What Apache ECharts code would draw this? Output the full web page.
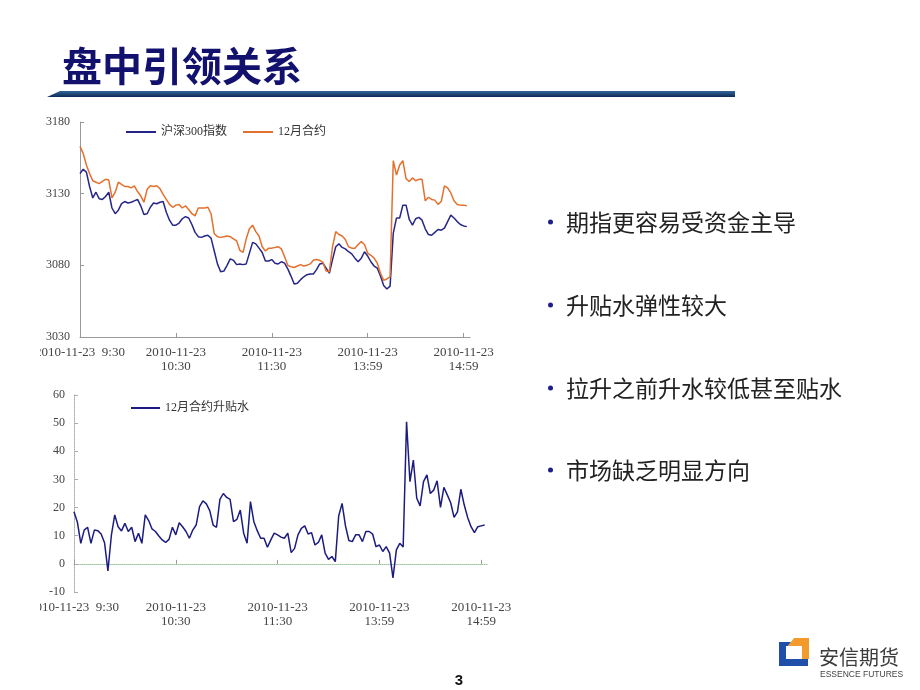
<!DOCTYPE html>
<html><head><meta charset="utf-8">
<script src="https://cdn.jsdelivr.net/npm/echarts/dist/echarts.min.js"></script>
<style>html,body{margin:0;padding:0;background:#fff;width:920px;height:690px;overflow:hidden}
.c{position:absolute}</style></head>
<body>
<div id="bg" class="c" style="left:0;top:0;width:920px;height:690px"></div>
<div id="chartTop" class="c" style="left:40px;top:110px;width:460px;height:268px"></div>
<div id="chartBot" class="c" style="left:40px;top:385px;width:474px;height:248px"></div>
<script>
// ---- data ----
const titleText = '盘中引领关系';
const bulletTexts = ['期指更容易受资金主导', '升贴水弹性较大', '拉升之前升水较低甚至贴水', '市场缺乏明显方向'];
const seriesNames = ['沪深300指数', '12月合约'];
const basisName = '12月合约升贴水';
const tickIndex = [0, 30, 60, 90, 120];
const tickLabels = ['2010-11-23  9:30', '2010-11-23\n10:30', '2010-11-23\n11:30', '2010-11-23\n13:59', '2010-11-23\n14:59'];
const topYTicks = [3030, 3180, 50];
const botYTicks = [-10, 60, 10];

const hs300 = [3144,3147,3145,3135,3127,3131,3126.5,3126,3128,3131,
3120,3116,3118.5,3123,3124.5,3123.5,3124,3125,3126,3121.5,
3115.5,3116,3120.5,3123.5,3123,3124,3124.5,3117,3111.5,3108,
3108,3109.5,3112.5,3114,3113,3108.5,3103,3100,3099.5,3100.5,
3101,3099,3090,3081,3075.5,3076,3080,3084.5,3083.5,3080.5,
3081,3080.5,3081,3088.5,3096,3095,3092,3089,3083,3083,
3084,3081.5,3081,3082.5,3081.5,3077.5,3072.5,3067,3067.5,3070,
3072,3073.5,3074,3074,3077,3081,3081.5,3078,3074.5,3084,
3093,3095,3092.5,3091.5,3089.5,3088,3085,3082.5,3085,3089.5,
3086.5,3082.5,3079.5,3078,3072.5,3066,3063.5,3065.5,3102.5,3113,
3113,3122,3122,3112,3108,3112.5,3113.5,3111.5,3105.5,3101.5,
3101,3103,3105,3104.5,3106,3110.5,3115,3113,3110.5,3108.5,
3107.5,3107];

const dec = [3163,3158,3150,3144,3139,3138,3137,3138.5,3140,3139.5,
3127,3131,3138,3136.5,3135,3135,3134,3135.5,3131.5,3128.5,
3124,3133,3135.5,3135,3135.5,3133.5,3129.5,3126,3122.5,3120.5,
3122,3122.5,3120,3121.5,3119,3116,3114.5,3120,3120,3120,
3120.5,3116,3102,3100,3099.5,3100,3100.5,3100,3098.5,3097,
3090.5,3089,3098.5,3105.5,3108,3103.5,3100.5,3093,3090,3092,
3092,3092.5,3093,3091.5,3086,3080,3079,3078.5,3079.5,3080.5,
3079.5,3080,3081,3083.5,3084,3083.5,3082,3076,3075.5,3093,
3103.5,3101.5,3100.5,3098,3093,3092,3092,3094.5,3096.5,3094.5,
3088.5,3087,3085,3081.5,3074.5,3069.5,3070.5,3072,3153,3143,
3150,3153,3140.5,3138.5,3141,3139,3140,3140,3125,3127.5,
3126,3125.5,3122.5,3124.5,3135.5,3134,3130.5,3125,3122.5,3122,
3122,3121.5];

const basis = [18.5,14.8,7.3,12,13,7.3,12,11.8,10.6,7.5,
-2.5,10,17.4,13.2,11.7,14.4,11.5,13,7.9,10.9,
7.3,17.4,15.4,12.4,11.5,9.9,8.5,7.6,8.7,13,
10.3,14.6,13.2,11.5,9.1,12,13.8,20.3,22.4,21.3,
18.9,13.8,13,22.9,25,23.6,22.9,15,15.8,19.1,
10.9,7.3,22.1,15,11.8,9.1,9.1,5.9,8.5,10.9,
10.3,9.5,9.1,10.9,4,5.5,10.3,12.6,13.5,10.6,
11.1,6.7,7.6,10.3,3.8,1.6,2.6,0.8,17,21.5,
13.5,8.3,7.9,10.3,10.3,7.9,11.5,11.5,10.6,6.1,
6.7,4.4,6.1,3.8,-5,5,7.3,6,50.5,29.2,
36.9,23.3,20.6,29.2,31.6,25,26.2,29.5,20.1,27.2,
24.5,21.7,16.5,18.5,26.5,20.9,16.5,13.2,11.1,13.2,
13.5,13.8];

// time categories: 2-minute steps, morning 9:30-11:30, afternoon from 13:01
const categories = [];
for (let i = 0; i <= 122; i++) {
  const m = i <= 60 ? 9 * 60 + 30 + 2 * i : 13 * 60 + 1 + 2 * (i - 61);
  categories.push(Math.floor(m / 60) + ':' + String(m % 60).padStart(2, '0'));
}

const labFont = "'Liberation Serif', 'Noto Sans CJK SC', serif";
const showTick = (i) => tickIndex.indexOf(i) >= 0;
const fmtTick = (v, i) => { const k = tickIndex.indexOf(i); return k >= 0 ? tickLabels[k] : ''; };
const plainNum = (v) => String(v);

// ---- background page ----
const bgChart = echarts.init(document.getElementById('bg'));
const bulletY = [222, 305, 388, 470];
const graphics = [
  {type: 'text', style: {x: 62, y: 66, text: titleText, font: 'bold 40px "Noto Sans CJK SC"', fill: '#12126e', verticalAlign: 'middle'}},
  {type: 'polygon', shape: {points: [[47, 97], [60, 91], [735, 91], [735, 97]]},
   style: {fill: new echarts.graphic.LinearGradient(0, 0, 0, 1, [{offset: 0, color: '#34679a'}, {offset: 1, color: '#0c2a56'}])}},
  {type: 'polygon', shape: {points: [[779, 642], [791, 642], [788, 646], [786, 646], [786, 659], [808, 659], [808, 666], [779, 666]]}, style: {fill: '#1f4fa8'}},
  {type: 'polygon', shape: {points: [[794, 638], [809, 638], [809, 659], [802, 659], [802, 646], [788, 646]]}, style: {fill: '#f39a2c'}},
  {type: 'text', style: {x: 819, y: 657, text: '安信期货', font: '20px "Noto Sans CJK SC"', fill: '#3c3c3c', verticalAlign: 'middle'}},
  {type: 'text', style: {x: 820, y: 674.5, text: 'ESSENCE FUTURES', font: '8.5px "Liberation Sans"', fill: '#444', verticalAlign: 'middle'}},
  {type: 'text', style: {x: 459, y: 681, text: '3', font: 'bold 15px "Liberation Sans"', fill: '#111', align: 'center', verticalAlign: 'middle'}}
];
bulletTexts.forEach((t, k) => {
  graphics.push({type: 'circle', shape: {cx: 550.5, cy: bulletY[k], r: 2.5}, style: {fill: '#1e1e8c'}});
  graphics.push({type: 'text', style: {x: 566, y: bulletY[k], text: t, font: '23px "Noto Sans CJK SC"', fill: '#222', verticalAlign: 'middle'}});
});
bgChart.setOption({animation: false, graphic: graphics});

// ---- top chart ----
const topChart = echarts.init(document.getElementById('chartTop'));
topChart.setOption({
  animation: false,
  legend: {left: 81, top: 11, icon: 'rect', itemWidth: 30, itemHeight: 2, itemGap: 16, data: seriesNames,
    textStyle: {fontFamily: labFont, fontSize: 12, color: '#333'}},
  grid: {left: 40, top: 12, width: 390, height: 215, containLabel: false, outerBoundsMode: 'none'},
  xAxis: {type: 'category', data: categories, boundaryGap: false,
    axisLine: {lineStyle: {color: '#999'}},
    axisTick: {inside: true, length: 4, interval: showTick, lineStyle: {color: '#999'}},
    axisLabel: {interval: showTick, formatter: fmtTick, fontFamily: labFont, fontSize: 13, lineHeight: 14, color: '#444', margin: 9},
    splitLine: {show: false}},
  yAxis: {type: 'value', min: topYTicks[0], max: topYTicks[1], interval: topYTicks[2],
    axisLine: {show: true, lineStyle: {color: '#999'}},
    axisTick: {show: true, inside: true, length: 4, lineStyle: {color: '#999'}},
    axisLabel: {formatter: plainNum, fontFamily: labFont, fontSize: 12, color: '#444', margin: 10},
    splitLine: {show: false}},
  series: [
    {name: seriesNames[0], type: 'line', data: hs300, symbol: 'none', lineStyle: {color: '#262688', width: 1.5}, itemStyle: {color: '#262688'}},
    {name: seriesNames[1], type: 'line', data: dec, symbol: 'none', lineStyle: {color: '#e4702e', width: 1.5}, itemStyle: {color: '#e4702e'}}
  ]
});

// ---- bottom chart ----
const botChart = echarts.init(document.getElementById('chartBot'));
botChart.setOption({
  animation: false,
  legend: {left: 86, top: 12, icon: 'rect', itemWidth: 29, itemHeight: 2, data: [basisName],
    textStyle: {fontFamily: labFont, fontSize: 12, color: '#333'}},
  grid: {left: 34, top: 10, width: 414, height: 197, containLabel: false, outerBoundsMode: 'none'},
  xAxis: {type: 'category', data: categories, boundaryGap: false,
    axisLine: {onZero: true, lineStyle: {color: '#9cc79c', type: 'dotted'}},
    axisTick: {inside: true, length: 4, interval: showTick, lineStyle: {color: '#999'}},
    axisLabel: {interval: showTick, formatter: fmtTick, fontFamily: labFont, fontSize: 13, lineHeight: 14, color: '#444', margin: 9},
    splitLine: {show: false}},
  yAxis: {type: 'value', min: botYTicks[0], max: botYTicks[1], interval: botYTicks[2],
    axisLine: {show: true, lineStyle: {color: '#aaa', type: 'dotted'}},
    axisTick: {show: true, inside: true, length: 4, lineStyle: {color: '#aaa'}},
    axisLabel: {formatter: plainNum, fontFamily: labFont, fontSize: 12, color: '#444', margin: 9},
    splitLine: {show: false}},
  series: [
    {name: basisName, type: 'line', data: basis, symbol: 'none', lineStyle: {color: '#1c1c80', width: 1.5}, itemStyle: {color: '#1c1c80'}}
  ]
});
</script>
</body></html>
